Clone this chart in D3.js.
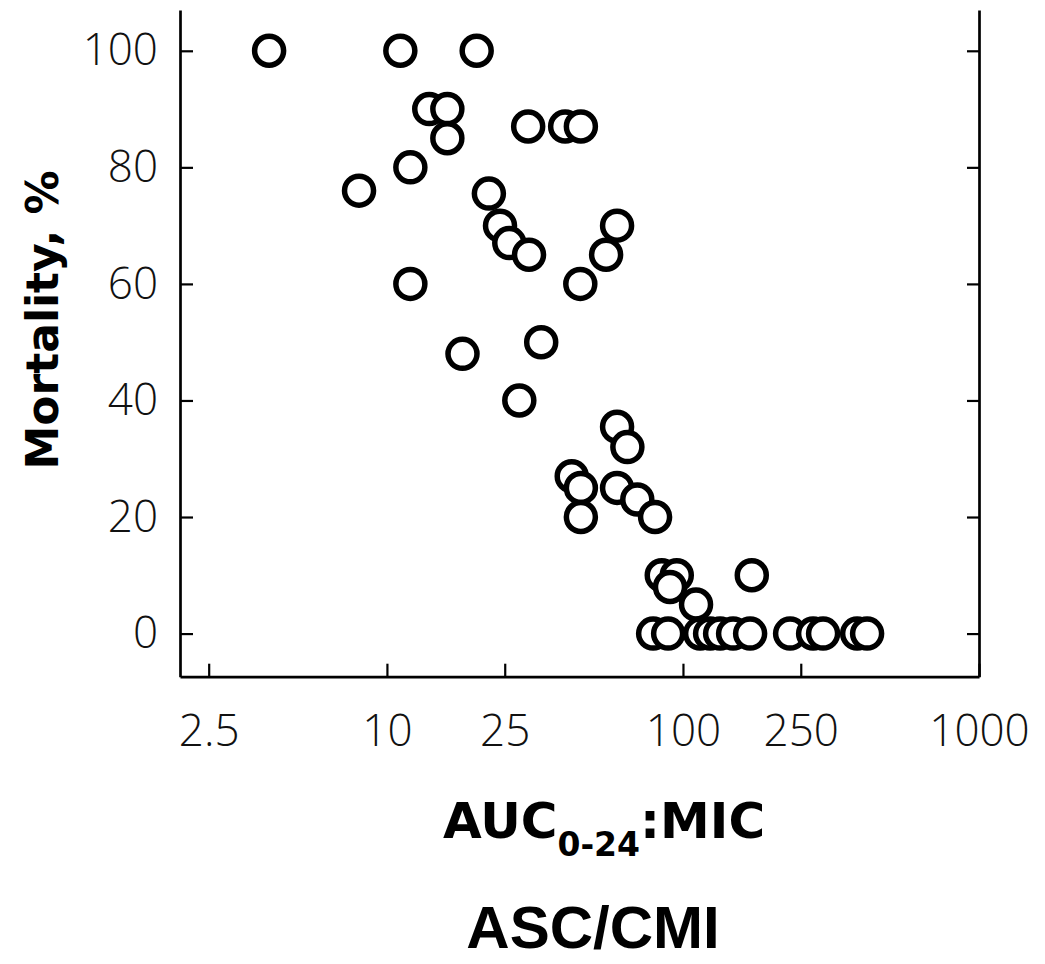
<!DOCTYPE html>
<html>
<head>
<meta charset="utf-8">
<script src="https://cdn.jsdelivr.net/npm/d3@7"></script>
<style>
    body { margin: 0; background: #fff; }
    svg { display: block; }
</style>
</head>
<body>
<svg id="chart" width="1045" height="964"></svg>
<script>
// AUC0-24:MIC ratio (log axis) and mortality in %
var ratio = [4.0, 11.1, 20.1,
    13.9, 16.0,
    30.0, 40.0, 45.2,
    16.0,
    12.0,
    8.05,
    22.1,
    24.1, 59.9,
    25.9,
    30.2, 55.0,
    12.0, 45.0,
    33.2,
    18.0,
    28.0,
    59.9,
    64.9,
    42.1,
    45.2, 59.9,
    70.1,
    45.2, 80.5,
    84.8, 95.3, 170.8,
    90.4,
    110.7,
    79.3, 89.1, 114.3, 123.5, 133.5, 147.7, 168.6, 230.1, 275.2, 297.4, 387.6, 418.8];

var mortality = [100, 100, 100,
    90, 90,
    87, 87, 87,
    85,
    80,
    76,
    75.5,
    70, 70,
    67,
    65, 65,
    60, 60,
    50,
    48,
    40,
    35.5,
    32,
    27,
    25, 25,
    23,
    20, 20,
    10, 10, 10,
    8,
    5,
    0, 0, 0, 0, 0, 0, 0, 0, 0, 0, 0, 0];

var x_ticks = [2.5, 10, 25, 100, 250, 1000];
var y_ticks = [0, 20, 40, 60, 80, 100];

var svg = d3.select("#chart");

// plot frame (window.top is read-only, so no plain "top" here)
var frame = {left: 180, right: 979, top: 10, bottom: 676.7};

var x = d3.scaleLog().domain([2, 1000]).range([frame.left, frame.right]);
var y = d3.scaleLinear().domain([-7.4, 107]).range([frame.bottom, frame.top]);

var tick_font = "'Open Sans', 'Liberation Sans', sans-serif";

function style_axis(g) {
    g.select(".domain").attr("stroke", "#000").attr("stroke-width", 2.7);
    g.selectAll(".tick line").attr("stroke", "#000").attr("stroke-width", 2.2);
    g.selectAll(".tick text")
        .attr("fill", "#111")
        .style("font-family", tick_font)
        .style("font-weight", 300)
        .style("font-size", "44px");
}

// left axis, ticks point inwards
svg.append("g")
    .attr("transform", "translate(" + frame.left + ",0)")
    .call(d3.axisLeft(y).tickValues(y_ticks).tickSize(-13).tickSizeOuter(0).tickPadding(22))
    .call(style_axis);

// right axis, ticks only
svg.append("g")
    .attr("transform", "translate(" + frame.right + ",0)")
    .call(d3.axisRight(y).tickValues(y_ticks).tickSize(-12).tickSizeOuter(0).tickFormat(""))
    .call(style_axis);

// bottom axis
svg.append("g")
    .attr("transform", "translate(0," + frame.bottom + ")")
    .call(d3.axisBottom(x).tickValues(x_ticks).tickSize(-13).tickSizeOuter(0).tickPadding(38)
        .tickFormat(function(d) { return String(d); }))
    .call(style_axis);

// the points: open circles with white fill
svg.append("g")
    .selectAll("circle")
    .data(ratio.map(function(r, i) { return {r: r, m: mortality[i]}; }))
    .enter().append("circle")
    .attr("cx", function(d) { return x(d.r); })
    .attr("cy", function(d) { return y(d.m); })
    .attr("r", 14.5)
    .attr("fill", "#fff")
    .attr("stroke", "#000")
    .attr("stroke-width", 5.5);

// axis titles
svg.append("text")
    .attr("transform", "translate(58,320) rotate(-90)")
    .attr("text-anchor", "middle")
    .style("font-family", "'DejaVu Sans', sans-serif")
    .style("font-weight", "bold")
    .style("font-size", "44px")
    .text("Mortality, %");

var xt = svg.append("text")
    .attr("x", 443)
    .attr("y", 838)
    .style("font-family", "'DejaVu Sans', sans-serif")
    .style("font-weight", "bold")
    .style("font-size", "50px");
xt.append("tspan").text("AUC");
xt.append("tspan").attr("dy", 18).style("font-size", "33px").text("0-24");
xt.append("tspan").attr("dy", -18).text(":MIC");

svg.append("text")
    .attr("x", 593)
    .attr("y", 948)
    .attr("text-anchor", "middle")
    .style("font-family", "'Liberation Sans', Arial, sans-serif")
    .style("font-weight", "bold")
    .style("font-size", "60px")
    .text("ASC/CMI");
</script>
</body>
</html>
